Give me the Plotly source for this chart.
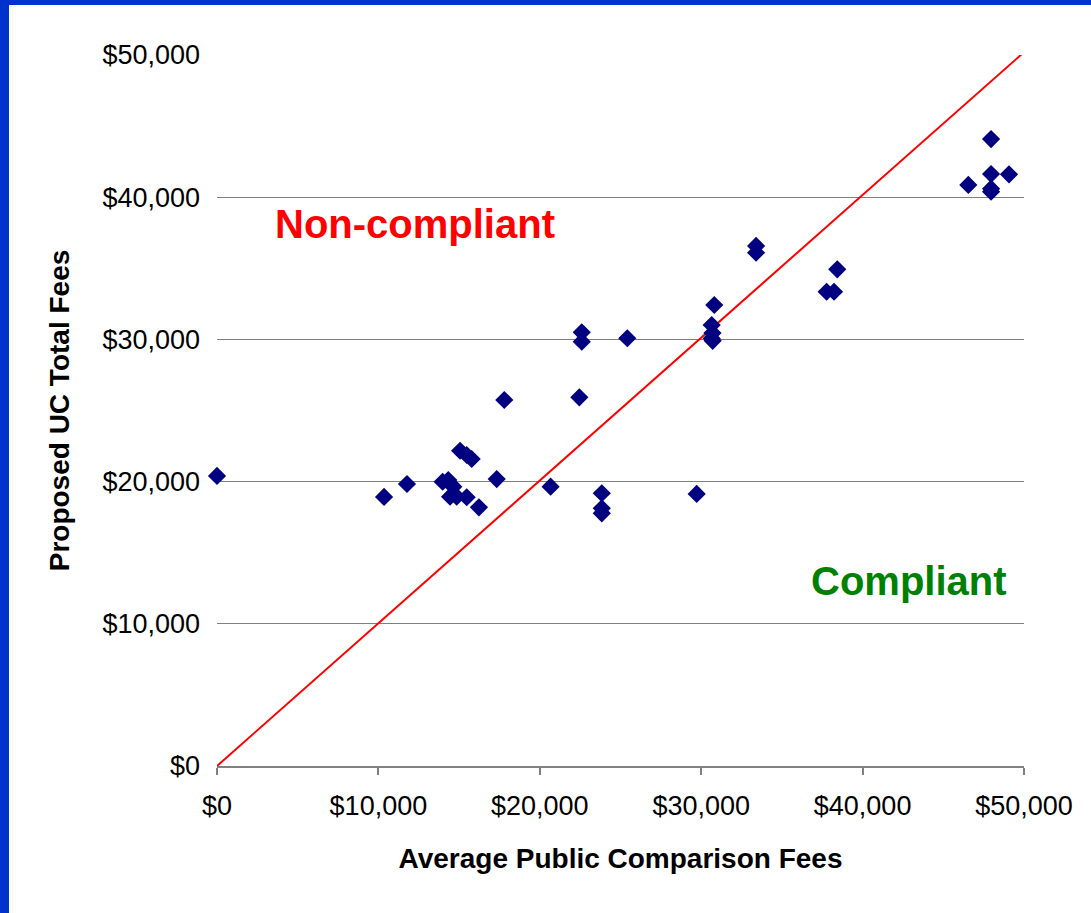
import plotly.graph_objects as go

avg_public_fees = [0, 10350, 11770, 13980, 14330, 14640, 14440, 14850, 15470, 15060,
                   15470, 15780, 16230, 17330, 17800, 20670, 22450, 22600, 22600, 23840,
                   23840, 23840, 25420, 29720, 30650, 30650, 30710, 30810, 30700, 33400,
                   33400, 37770, 38230, 38430, 46550, 47960, 47960, 47960, 47960, 49070]
proposed_uc_fees = [20400, 18920, 19830, 19990, 20110, 19640, 18940, 18940, 18900, 22170,
                    21870, 21590, 18190, 20180, 25740, 19640, 25930, 30500, 29840, 19180,
                    18120, 17770, 30080, 19130, 31010, 30070, 29900, 32420, 30450, 36570,
                    36100, 33350, 33350, 34930, 40860, 44090, 41630, 40600, 40390, 41610]

parity_x = [0, 50000]
parity_y = [0, 50200]

tick_vals = [0, 10000, 20000, 30000, 40000, 50000]
tick_text = ["$0", "$10,000", "$20,000", "$30,000", "$40,000", "$50,000"]

FONT = "Liberation Sans, Arial, sans-serif"

fig = go.Figure()
fig.add_trace(go.Scatter(x=parity_x, y=parity_y, mode="lines",
                         line=dict(color="#ff0000", width=2), hoverinfo="skip",
                         showlegend=False, cliponaxis=False))
fig.add_trace(go.Scatter(x=avg_public_fees, y=proposed_uc_fees, mode="markers",
                         marker=dict(symbol="diamond", size=14, color="#000080"),
                         showlegend=False, cliponaxis=False))

fig.add_annotation(x=12270, y=38100, text="<b>Non-compliant</b>", showarrow=False,
                   font=dict(family=FONT, size=40, color="#ff0000"),
                   xanchor="center", yanchor="middle")
fig.add_annotation(x=42870, y=13000, text="<b>Compliant</b>", showarrow=False,
                   font=dict(family=FONT, size=40, color="#008000"),
                   xanchor="center", yanchor="middle")

# slide border (blue strips at top and left)
pw, ph = 807.0, 711.0
fig.add_shape(type="rect", xref="paper", yref="paper", layer="above",
              x0=-217 / pw - 0.01, x1=(1091 - 217) / pw + 0.01,
              y0=1 + 50 / ph, y1=1 + 56 / ph, fillcolor="#0033cc", line_width=0)
fig.add_shape(type="rect", xref="paper", yref="paper", layer="above",
              x0=-218 / pw, x1=-208 / pw,
              y0=-147 / ph - 0.01, y1=1 + 56 / ph, fillcolor="#0033cc", line_width=0)

fig.update_xaxes(range=[0, 50000], tickvals=tick_vals, ticktext=tick_text,
                 showgrid=False, zeroline=False, showline=True, linecolor="#808080",
                 linewidth=2, ticks="outside", ticklen=7, tickcolor="#808080", tickwidth=2,
                 tickfont=dict(family=FONT, size=27, color="#000000"),
                 ticklabelstandoff=8,
                 title=dict(text="<b>Average Public Comparison Fees</b>",
                            font=dict(family=FONT, size=28, color="#000000"), standoff=28))
fig.update_yaxes(range=[0, 50000], tickvals=tick_vals, ticktext=tick_text,
                 showgrid=True, gridcolor="#808080", gridwidth=1, zeroline=False,
                 showline=False, ticks="",
                 tickfont=dict(family=FONT, size=27, color="#000000"),
                 ticklabelstandoff=16,
                 title=dict(text="<b>Proposed UC Total Fees</b>",
                            font=dict(family=FONT, size=28, color="#000000"), standoff=24))

fig.update_layout(width=1091, height=913, paper_bgcolor="#ffffff", plot_bgcolor="#ffffff",
                  margin=dict(l=217, r=67, t=55, b=147, autoexpand=False),
                  font=dict(family=FONT))

fig.write_html("out.html", config={"displayModeBar": False},
               post_script="document.body.style.margin='0px';")
